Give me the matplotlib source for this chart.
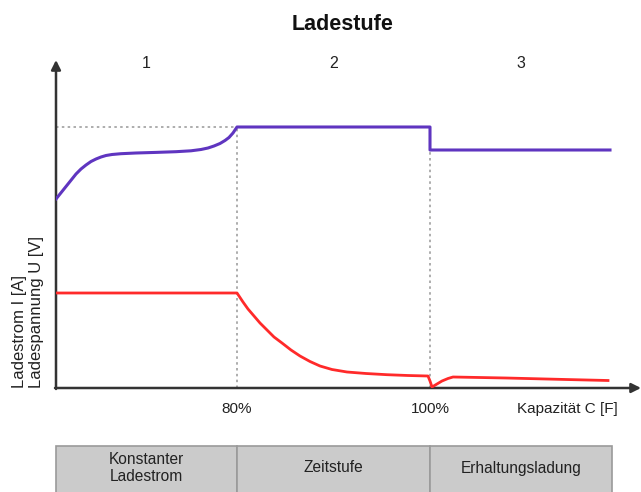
import matplotlib.pyplot as plt
from matplotlib.patches import Rectangle

plt.rcParams['font.family'] = ['Liberation Sans', 'DejaVu Sans']

# x positions (arbitrary capacity units along the axis), y in arbitrary units
stage_bounds = [0, 181, 374, 556]
stage_nums = ['1', '2', '3']
stage_names = ['Konstanter\nLadestrom', 'Zeitstufe', 'Erhaltungsladung']
tick_pos = [181, 374]
tick_labels = ['80%', '100%']

# Ladespannung U
u_x = [0, 4, 8, 12, 16, 20, 25, 30, 35, 40, 45, 50, 56, 65, 80, 100, 120, 135,
       145, 152, 158, 164, 169, 173, 177, 181,
       181, 374, 374, 554]
u_y = [189, 194, 199, 204, 209, 214, 219, 223, 226.5, 229, 231, 232.5, 233.5, 234.3, 235, 235.6, 236.3, 237.2,
       238.5, 240, 242, 244.5, 247.5, 250.5, 255, 261,
       261, 261, 238, 238]

# Ladestrom I
i_x = [0, 181, 183, 187, 192, 198, 204, 211, 218, 226, 235, 244, 254, 264, 276, 291,
       310, 331, 352, 372, 374, 376, 381, 386, 392, 397, 450, 510, 552]
i_y = [95, 95, 92, 86, 79, 72, 65, 58, 51, 45, 38, 32, 26.5, 22, 18.5, 16,
       14.5, 13.3, 12.5, 12, 7, 1, 4, 7, 9.5, 11, 10, 8.5, 7.5]

fig = plt.figure(figsize=(6.41, 4.92), dpi=100)
ax = fig.add_axes([56 / 641, 104 / 492, 585 / 641, 326 / 492])
ax.set_xlim(0, 585)
ax.set_ylim(0, 326)
ax.axis('off')

axis_col = '#333333'
ax.annotate('', xy=(0, 328), xytext=(0, -1),
            arrowprops=dict(arrowstyle='-|>', color=axis_col, lw=1.8,
                            mutation_scale=14, shrinkA=0, shrinkB=0),
            annotation_clip=False)
ax.annotate('', xy=(585, 0), xytext=(-1, 0),
            arrowprops=dict(arrowstyle='-|>', color=axis_col, lw=1.8,
                            mutation_scale=14, shrinkA=0, shrinkB=0),
            annotation_clip=False)

dot = dict(color='#a0a0a0', lw=1.2, ls=(0, (1.5, 2)), zorder=1)
ax.plot([0, 181], [261, 261], **dot)
for b in tick_pos:
    ax.plot([b, b], [0, 261], **dot)

ax.plot(u_x, u_y, color='#5f35c0', lw=2.2, solid_joinstyle='round', zorder=3)
ax.plot(i_x, i_y, color='#ff2a2a', lw=2.0, solid_joinstyle='round', zorder=3)

for p, lab in zip(tick_pos, tick_labels):
    ax.text(p, -21, lab, ha='center', va='center', fontsize=11, color='#222222')
ax.text(511, -21, 'Kapazität C [F]', ha='center', va='center', fontsize=11, color='#222222')

for i, n in enumerate(stage_nums):
    cx = (stage_bounds[i] + stage_bounds[i + 1]) / 2
    ax.text(cx, 325, n, ha='center', va='center', fontsize=11.5, color='#222222')

fig.text(343 / 641, 1 - 25 / 492, 'Ladestufe', ha='center', va='center',
         fontsize=15.5, fontweight='bold', color='#111111')
fig.text(28 / 641, 104 / 492, 'Ladestrom I [A]\nLadespannung U [V]', rotation=90,
         ha='center', va='bottom', multialignment='left', fontsize=12,
         color='#222222', linespacing=1.2)

# bottom stage boxes
bx = fig.add_axes([56 / 641, 0, 585 / 641, 46 / 492])
bx.set_xlim(0, 585)
bx.set_ylim(0, 46)
bx.axis('off')
for i, name in enumerate(stage_names):
    x0, x1 = stage_bounds[i], stage_bounds[i + 1]
    bx.add_patch(Rectangle((x0, -5), x1 - x0, 51, facecolor='#cbcbcb',
                           edgecolor='#9a9a9a', lw=1.2, clip_on=False))
    bx.text((x0 + x1) / 2, 24, name, ha='center', va='center', fontsize=11.2,
            color='#222222', linespacing=1.15)

fig.savefig('out.png', dpi=100, facecolor='white')
